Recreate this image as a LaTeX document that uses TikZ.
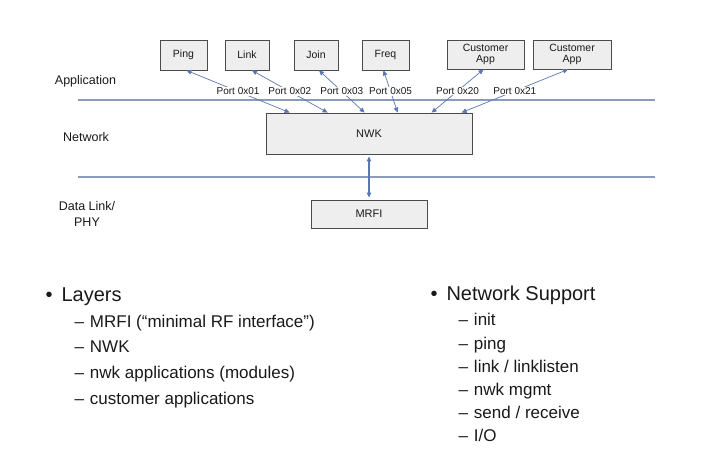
\documentclass[tikz,border=0pt]{standalone}
\usepackage{fontspec}
\setmainfont{Liberation Sans}
\usetikzlibrary{calc,arrows.meta}
\definecolor{boxfill}{RGB}{238,238,238}
\definecolor{boxline}{RGB}{75,75,75}
\definecolor{portblue}{RGB}{85,118,185}
\definecolor{layerline}{RGB}{140,155,185}
\definecolor{txt}{RGB}{25,25,25}
\tikzset{
  modbox/.style={draw=boxline,fill=boxfill,line width=0.8pt,inner sep=0pt,
    align=center,text=txt,font=\fontsize{10.5}{11}\selectfont},
  portarrow/.style={draw=portblue!85!gray,line width=0.7pt,
    {Triangle[length=5pt,width=4.5pt,fill=portblue]}-{Triangle[length=5pt,width=4.5pt,fill=portblue]}},
  portlabel/.style={fill=white,inner sep=0.5pt,text=txt,font=\fontsize{10}{11}\selectfont},
  layerlabel/.style={text=txt,align=center,font=\fontsize{12.5}{16}\selectfont},
  bighead/.style={anchor=west,text=txt,text height=0.75em,text depth=0.22em,
    font=\fontsize{20}{22}\selectfont},
  subitem/.style={anchor=west,text=txt,text height=0.75em,text depth=0.22em,
    font=\fontsize{17}{19}\selectfont}
}
\begin{document}
\begin{tikzpicture}[x=1pt,y=-1pt]
  \useasboundingbox (0,0) rectangle (711,454);
  % layer separators
  \draw[layerline,line width=1.2pt] (78,100) -- (655,100);
  \draw[layerline,line width=1.2pt] (78,177) -- (655,177);
  % layer names
  \node[layerlabel] (app) at (85.5,81) {Application};
  \node[layerlabel] (net) at (86,137) {Network};
  \node[layerlabel] (dlp) at (87,213.5) {Data Link/\\PHY};
  % modules
  \node[modbox,minimum width=47pt,minimum height=30pt] (ping) at (183.5,55) {Ping};
  \node[modbox,minimum width=44pt,minimum height=30pt] (link) at (247,55) {Link};
  \node[modbox,minimum width=44pt,minimum height=30pt] (join) at (316,55) {Join};
  \node[modbox,minimum width=47pt,minimum height=30pt] (freq) at (385.5,55) {Freq};
  \node[modbox,minimum width=77pt,minimum height=29pt] (capp) at (485.5,54.5) {Customer\\App};
  \node[modbox,minimum width=78pt,minimum height=29pt] (cappb) at (572,54.5) {Customer\\App};
  \node[modbox,minimum width=206pt,minimum height=41pt,font=\fontsize{11}{12}\selectfont] (nwk) at (369,133.5) {NWK};
  \node[modbox,minimum width=116pt,minimum height=28pt,font=\fontsize{11}{12}\selectfont] (mrfi) at (369,214) {MRFI};
  % ports
  \foreach \mod/\sx/\dx/\port in {ping/3/24/01, link/5/62/02, join/3/99/03,
      freq/-2/132/05, capp/-2/166/20, cappb/-4/196/21}
    \draw[portarrow] ($(\mod.south)+(\sx,0)$) -- node[portlabel] {Port 0x\port}
      ($(nwk.north west)+(\dx,0)$);
  \draw[portarrow,line width=1.1pt,shorten <=2pt,shorten >=2pt] (nwk.south) -- (mrfi.north);
  % bullets, left
  \node[bighead] (layers) at (42,299) {•\hspace{9pt}Layers};
  \foreach \item [count=\i] in {MRFI (“minimal RF interface”), NWK,
      nwk applications (modules), customer applications}
    \node[subitem] (l\i) at (71,{299+25.6*\i}) {–\hspace{6pt}\item};
  % bullets, right
  \node[bighead] (support) at (427,298) {•\hspace{9pt}Network Support};
  \foreach \item [count=\i] in {init, ping, link / linklisten, nwk mgmt,
      send / receive, I/O}
    \node[subitem] (r\i) at (455,{300+23.2*\i}) {–\hspace{6pt}\item};
\end{tikzpicture}
\end{document}
